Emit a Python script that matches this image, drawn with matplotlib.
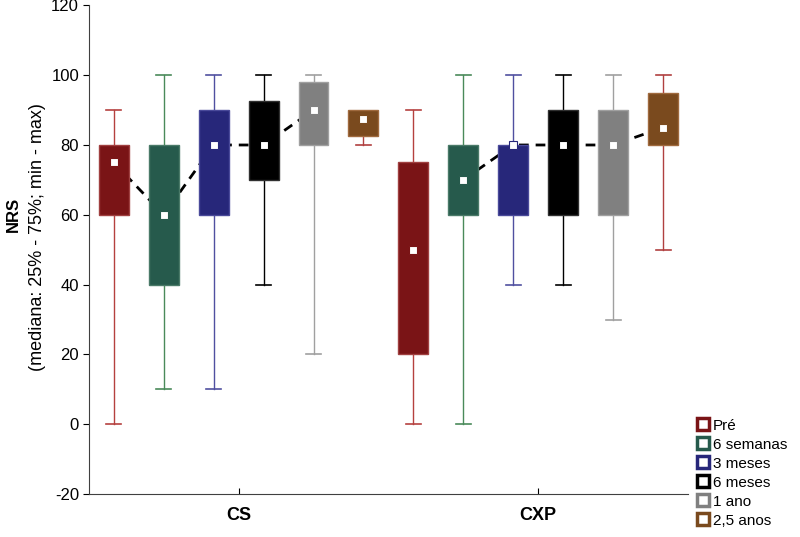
import numpy as np
import matplotlib.pyplot as plt
from matplotlib.lines import Line2D

plt.rcParams['font.family'] = ['Liberation Sans', 'DejaVu Sans']
plt.rcParams['axes.unicode_minus'] = False

groups = ['CS', 'CXP']
periods = ['Pré', '6 semanas', '3 meses', '6 meses', '1 ano', '2,5 anos']

box_colors = ['#7a1416', '#265a4c', '#27277a', '#000000', '#808080', '#7a4a1e']
edge_colors = ['#a04040', '#4a7a68', '#4a4a9a', '#303030', '#a0a0a0', '#a06a3e']
whisker_colors = ['#b5413f', '#4a8a5a', '#5050a0', '#000000', '#a0a0a0', '#b04040']

# per group: min, q1, median, q3, max for each period
cs_min = [0, 10, 10, 40, 20, 80]
cs_q1 = [60, 40, 60, 70, 80, 82.5]
cs_med = [75, 60, 80, 80, 90, 87.5]
cs_q3 = [80, 80, 90, 92.5, 98, 90]
cs_max = [90, 100, 100, 100, 100, 90]

cxp_min = [0, 0, 40, 40, 30, 50]
cxp_q1 = [20, 60, 60, 60, 60, 80]
cxp_med = [50, 70, 80, 80, 80, 85]
cxp_q3 = [75, 80, 80, 90, 90, 95]
cxp_max = [90, 100, 100, 100, 100, 100]

# which medians are joined by the dashed line
cs_linked = [0, 1, 2, 3, 4]
cxp_linked = [1, 2, 3, 4, 5]

data = [
    (cs_min, cs_q1, cs_med, cs_q3, cs_max, cs_linked),
    (cxp_min, cxp_q1, cxp_med, cxp_q3, cxp_max, cxp_linked),
]

fig = plt.figure(figsize=(8, 5.37), dpi=100)
ax = fig.add_axes([0.111, 0.080, 0.749, 0.910])

width = 0.1
cap = 0.05
for g, (mn, q1, md, q3, mx, linked) in enumerate(data):
    center = g + 1
    xs = center + (np.arange(len(periods)) - 2.5) / 6
    for i in range(len(periods)):
        x = xs[i]
        wc = whisker_colors[i]
        if mx[i] > q3[i]:
            ax.plot([x, x], [q3[i], mx[i]], color=wc, lw=1, zorder=1)
            ax.plot([x - cap / 2, x + cap / 2], [mx[i], mx[i]], color=wc, lw=1.2, zorder=1)
        if mn[i] < q1[i]:
            ax.plot([x, x], [mn[i], q1[i]], color=wc, lw=1, zorder=1)
            ax.plot([x - cap / 2, x + cap / 2], [mn[i], mn[i]], color=wc, lw=1.2, zorder=1)
        ax.add_patch(plt.Rectangle((x - width / 2, q1[i]), width, q3[i] - q1[i],
                                   facecolor=box_colors[i], edgecolor=edge_colors[i],
                                   lw=1, zorder=3))
        ax.plot(x, md[i], marker='s', ms=6, mfc='white', mec=box_colors[i],
                mew=0.8, zorder=5, ls='none')
    ax.plot(xs[linked], np.array(md)[linked], color='black', lw=2,
            ls=(0, (3.5, 2.5)), zorder=2)

ax.set_xlim(0.5, 2.5)
ax.set_ylim(-20, 120)
ax.set_yticks(np.arange(-20, 121, 20))
ax.set_xticks([1, 2])
ax.set_xticklabels(groups, fontweight='bold', fontsize=13)
ax.tick_params(axis='y', labelsize=12, direction='out', length=4, pad=3)
ax.tick_params(axis='x', direction='in', length=4, pad=9)
for s in ['top', 'right']:
    ax.spines[s].set_visible(False)
for s in ['left', 'bottom']:
    ax.spines[s].set_color('#404040')

fig.text(0.017, 0.600, 'NRS', rotation=90, ha='center', va='center',
         fontweight='bold', fontsize=12)
fig.text(0.047, 0.559, '(mediana: 25% - 75%; min - max)', rotation=90,
         ha='center', va='center', fontsize=13)

handles = [Line2D([], [], marker='s', ls='none', ms=8, mfc='white',
                  mec=c, mew=2.5) for c in box_colors]
fig.legend(handles, periods, loc='lower left', bbox_to_anchor=(0.862, 0.0),
           frameon=False, fontsize=11, handlelength=0.6, handletextpad=0.3,
           labelspacing=0.33, borderpad=0.1)

fig.savefig('out.png', dpi=100)
